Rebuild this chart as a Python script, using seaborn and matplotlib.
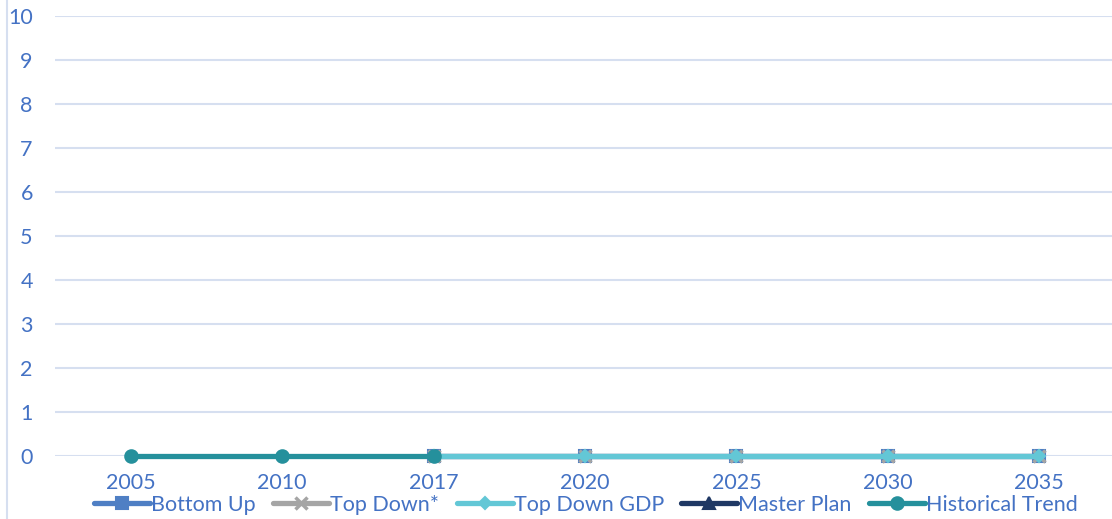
import matplotlib.pyplot as plt
import seaborn as sns
import numpy as np
import pandas as pd
from matplotlib.lines import Line2D

years = ['2005', '2010', '2017', '2020', '2025', '2030', '2035']
bottom_up = [np.nan, np.nan, 0, 0, 0, 0, 0]
top_down = [np.nan, np.nan, 0, 0, 0, 0, 0]
top_down_gdp = [np.nan, np.nan, 0, 0, 0, 0, 0]
master_plan = [np.nan] * 7
historical = [0, 0, 0, np.nan, np.nan, np.nan, np.nan]

names = ['Bottom Up', 'Top Down*', 'Top Down GDP', 'Master Plan', 'Historical Trend']
colors = ['#4f7fc4', '#a5a5a5', '#63c7d6', '#1f3864', '#25909c']
markers = ['s', 'x', 'D', '^', 'o']
msizes = [8, 8, 6, 8, 9]
series = [bottom_up, top_down, top_down_gdp, master_plan, historical]

sns.set_theme(style='white')
plt.rcParams['font.family'] = ['Lato', 'DejaVu Sans']
text_col = '#4472c4'
fs = 15.5

fig = plt.figure(figsize=(11.12, 5.19), dpi=100)
ax = fig.add_axes([55 / 1112, 63 / 519, 1060 / 1112, 440 / 519])

x = np.arange(len(years))
for name, vals, c, m, ms in zip(names, series, colors, markers, msizes):
    df = pd.DataFrame({'x': x, 'y': vals}).dropna()
    if df.empty:
        continue
    sns.lineplot(data=df, x='x', y='y', ax=ax, color=c, linewidth=3.8,
                 marker=m, markersize=ms, markeredgecolor=c,
                 markeredgewidth=1.5 if m != 'x' else 2.5, zorder=3)
for ln in ax.lines:
    ln.set_clip_on(False)

ax.set_xlim(-0.5, len(years) - 0.5)
ax.set_ylim(0, 10)
ax.set_yticks(range(0, 11))
ax.set_xticks(x)
ax.set_xticklabels(years)
ax.set_xlabel('')
ax.set_ylabel('')
ax.yaxis.grid(True, color='#d6dff0', linewidth=1.5)
ax.set_axisbelow(True)
for s in ax.spines.values():
    s.set_visible(False)
ax.tick_params(axis='y', length=0, pad=16, labelsize=fs, labelcolor=text_col)
ax.tick_params(axis='x', length=0, pad=12, labelsize=fs, labelcolor=text_col)

# left border of the chart area
fig.add_artist(Line2D([7 / 1112, 7 / 1112], [0, 1], color='#d6dff0', linewidth=1.5))

handles = [Line2D([], [], color=c, linewidth=3.8, marker=m, markersize=ms,
                  markeredgecolor=c, markeredgewidth=1.5 if m != 'x' else 2.5)
           for c, m, ms in zip(colors, markers, msizes)]
leg = fig.legend(handles, names, loc='center', bbox_to_anchor=(586 / 1112, 1 - 505 / 519),
                 ncol=5, frameon=False, fontsize=fs, handlelength=2.6,
                 handletextpad=0.05, columnspacing=0.8, borderaxespad=0)
for t in leg.get_texts():
    t.set_color(text_col)

fig.savefig('out.png', dpi=100)
